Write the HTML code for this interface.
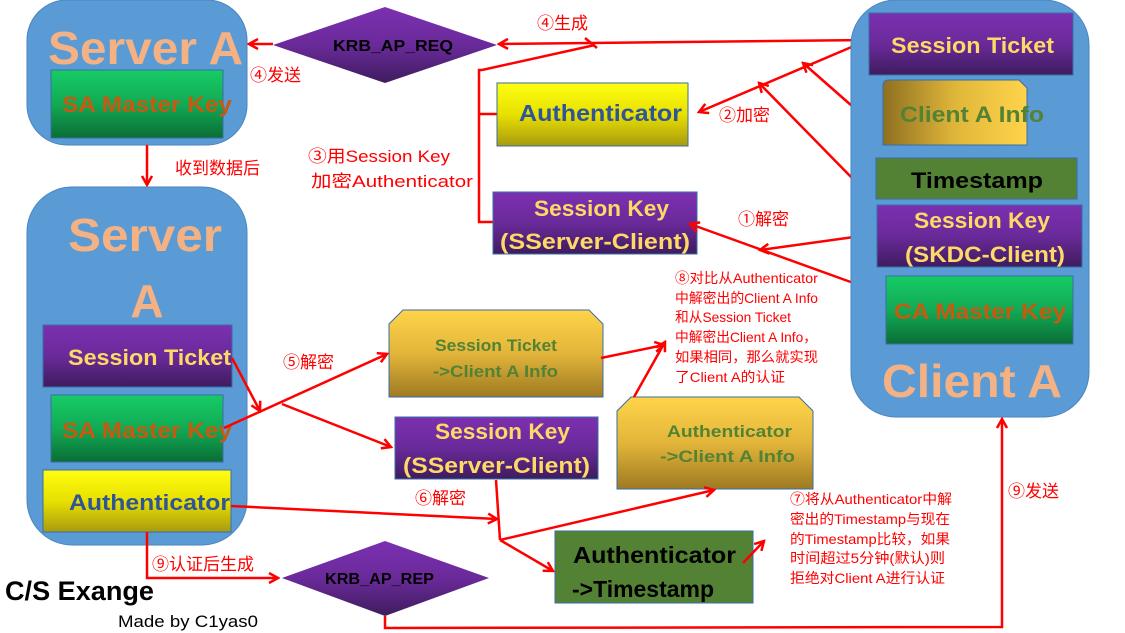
<!DOCTYPE html>
<html><head><meta charset="utf-8"><style>
html,body{margin:0;padding:0;background:#fff;}
svg{display:block;}
text{font-family:"Liberation Sans","Noto Sans CJK SC",sans-serif;}
.b{font-weight:bold;}
.r{fill:#FF0000;font-size:17px;}
.s{fill:#FF0000;font-size:14px;}
</style></head><body>
<svg width="1125" height="633" viewBox="0 0 1125 633" xmlns="http://www.w3.org/2000/svg">
<defs>
<linearGradient id="pu" x1="0" y1="0" x2="0" y2="1"><stop offset="0" stop-color="#7B30B0"/><stop offset="0.5" stop-color="#6A2A9A"/><stop offset="1" stop-color="#3E1C5E"/></linearGradient>
<linearGradient id="gr" x1="0" y1="0" x2="0" y2="1"><stop offset="0" stop-color="#16CC66"/><stop offset="0.5" stop-color="#12AA55"/><stop offset="1" stop-color="#0A6E35"/></linearGradient>
<linearGradient id="ye" x1="0" y1="0" x2="0" y2="1"><stop offset="0" stop-color="#FFFF10"/><stop offset="0.5" stop-color="#E8E000"/><stop offset="1" stop-color="#A89A10"/></linearGradient>
<linearGradient id="go" x1="0" y1="0" x2="0" y2="1"><stop offset="0" stop-color="#FFD44A"/><stop offset="0.5" stop-color="#E2B53A"/><stop offset="1" stop-color="#9E7A22"/></linearGradient>
<linearGradient id="goh" x1="0" y1="0" x2="1" y2="0"><stop offset="0" stop-color="#8E7020"/><stop offset="0.5" stop-color="#E0B63A"/><stop offset="1" stop-color="#FFD44A"/></linearGradient>
<marker id="ar" markerWidth="12" markerHeight="12" refX="10" refY="6" orient="auto" markerUnits="userSpaceOnUse"><path d="M1,1 L10,6 L1,11" fill="none" stroke="#FF0000" stroke-width="2.5"/></marker>
</defs>

<!-- Server A top -->
<rect x="27" y="0" width="220" height="145" rx="40" fill="#5B9BD5" stroke="#4A86C0"/>
<text x="48" y="64" textLength="195" lengthAdjust="spacingAndGlyphs" class="b" font-size="46" fill="#F4B183">Server A</text>
<rect x="51" y="70" width="172" height="68" fill="url(#gr)" stroke="#3A6EA5"/>
<text x="62" y="112" textLength="170" lengthAdjust="spacingAndGlyphs" class="b" font-size="22" fill="#C55A11">SA Master Key</text>

<line x1="147" y1="145" x2="147" y2="185" stroke="#FF0000" stroke-width="2.5" marker-end="url(#ar)"/>
<text x="175" y="174" class="r">收到数据后</text>

<!-- Server A bottom -->
<rect x="27" y="187" width="220" height="358" rx="45" fill="#5B9BD5" stroke="#4A86C0"/>
<text x="68" y="251" textLength="154" lengthAdjust="spacingAndGlyphs" class="b" font-size="46" fill="#F4B183">Server</text>
<text x="147" y="317" text-anchor="middle" class="b" font-size="46" fill="#F4B183">A</text>
<rect x="43" y="325" width="189" height="62" fill="url(#pu)" stroke="#3A6EA5"/>
<text x="68" y="365" textLength="163" lengthAdjust="spacingAndGlyphs" class="b" font-size="22" fill="#FFD966">Session Ticket</text>
<rect x="51" y="395" width="172" height="67" fill="url(#gr)" stroke="#3A6EA5"/>
<text x="62" y="438" textLength="170" lengthAdjust="spacingAndGlyphs" class="b" font-size="22" fill="#C55A11">SA Master Key</text>
<rect x="43" y="470" width="188" height="62" fill="url(#ye)" stroke="#3A6EA5"/>
<text x="69" y="510" textLength="161" lengthAdjust="spacingAndGlyphs" class="b" font-size="22" fill="#2F5597">Authenticator</text>

<!-- KRB_AP_REQ -->
<polygon points="273,45 385,7 497,45 385,83" fill="url(#pu)"/>
<text x="333" y="51" textLength="120" lengthAdjust="spacingAndGlyphs" class="b" font-size="16" fill="#000">KRB_AP_REQ</text>
<line x1="273" y1="44" x2="249" y2="44" stroke="#FF0000" stroke-width="2.5" marker-end="url(#ar)"/>
<text x="250" y="81" class="r">④发送</text>
<text x="537" y="29" class="r">④生成</text>
<line x1="868" y1="40" x2="499" y2="44" stroke="#FF0000" stroke-width="2.5" marker-end="url(#ar)"/>
<polyline points="482,70 595,45" fill="none" stroke="#FF0000" stroke-width="2.5"/>
<path d="M585,38 L597,48" stroke="#FF0000" stroke-width="2.5"/>
<polyline points="497,114 479,114" fill="none" stroke="#FF0000" stroke-width="2.5"/>
<polyline points="482,70 479,70 479,222 493,222" fill="none" stroke="#FF0000" stroke-width="2.5"/>

<!-- Authenticator top -->
<rect x="497" y="83" width="191" height="63" fill="url(#ye)" stroke="#3A6EA5"/>
<text x="519" y="121" textLength="163" lengthAdjust="spacingAndGlyphs" class="b" font-size="23" fill="#2F5597">Authenticator</text>
<line x1="868" y1="40" x2="699" y2="112" stroke="#FF0000" stroke-width="2.5" marker-end="url(#ar)"/>
<text x="719" y="121" class="r">②加密</text>
<line x1="860" y1="113" x2="803" y2="63" stroke="#FF0000" stroke-width="2.5" marker-end="url(#ar)"/>
<line x1="852" y1="178" x2="759" y2="83" stroke="#FF0000" stroke-width="2.5" marker-end="url(#ar)"/>

<text x="308" y="162" class="r" textLength="142" lengthAdjust="spacingAndGlyphs">③用Session Key</text>
<text x="311" y="187" class="r" textLength="162" lengthAdjust="spacingAndGlyphs">加密Authenticator</text>

<!-- Session Key SS top -->
<rect x="493" y="192" width="204" height="62" fill="url(#pu)" stroke="#3A6EA5"/>
<text x="534" y="216" textLength="135" lengthAdjust="spacingAndGlyphs" class="b" font-size="22" fill="#FFD966">Session Key</text>
<text x="500" y="249" textLength="190" lengthAdjust="spacingAndGlyphs" class="b" font-size="22" fill="#FFD966">(SServer-Client)</text>
<text x="738" y="225" class="r">①解密</text>
<line x1="854" y1="237" x2="760" y2="250" stroke="#FF0000" stroke-width="2.5" marker-end="url(#ar)"/>
<line x1="859" y1="285" x2="690" y2="224" stroke="#FF0000" stroke-width="2.5" marker-end="url(#ar)"/>

<!-- Client A -->
<rect x="851" y="0" width="238" height="417" rx="45" fill="#5B9BD5" stroke="#4A86C0"/>
<rect x="869" y="13" width="204" height="62" fill="url(#pu)" stroke="#3A6EA5"/>
<text x="891" y="53" textLength="163" lengthAdjust="spacingAndGlyphs" class="b" font-size="22" fill="#FFD966">Session Ticket</text>
<path d="M889,80 L1019,80 L1027,88 L1027,145 L883,145 L883,86 Q883,80 889,80 Z" fill="url(#goh)" stroke="#3A6EA5"/>
<text x="900" y="122" textLength="144" lengthAdjust="spacingAndGlyphs" class="b" font-size="22" fill="#548235">Client A Info</text>
<rect x="876" y="158" width="201" height="41" fill="#548235" stroke="#3A6EA5"/>
<text x="911" y="188" textLength="132" lengthAdjust="spacingAndGlyphs" class="b" font-size="22" fill="#000">Timestamp</text>
<rect x="877" y="205" width="205" height="62" fill="url(#pu)" stroke="#3A6EA5"/>
<text x="914" y="228" textLength="136" lengthAdjust="spacingAndGlyphs" class="b" font-size="22" fill="#FFD966">Session Key</text>
<text x="905" y="262" textLength="160" lengthAdjust="spacingAndGlyphs" class="b" font-size="22" fill="#FFD966">(SKDC-Client)</text>
<rect x="886" y="276" width="187" height="68" fill="url(#gr)" stroke="#3A6EA5"/>
<text x="894" y="319" textLength="172" lengthAdjust="spacingAndGlyphs" class="b" font-size="22" fill="#C55A11">CA Master Key</text>
<text x="882" y="397" textLength="180" lengthAdjust="spacingAndGlyphs" class="b" font-size="46" fill="#F4B183">Client A</text>

<!-- middle boxes -->
<polygon points="403,310 589,310 603,324 603,397 389,397 389,324" fill="url(#go)" stroke="#3A6EA5"/>
<text x="435" y="351" textLength="122" lengthAdjust="spacingAndGlyphs" class="b" font-size="17" fill="#548235">Session Ticket</text>
<text x="433" y="377" textLength="125" lengthAdjust="spacingAndGlyphs" class="b" font-size="17" fill="#548235">-&gt;Client A Info</text>
<rect x="395" y="417" width="203" height="62" fill="url(#pu)" stroke="#3A6EA5"/>
<text x="435" y="439" textLength="135" lengthAdjust="spacingAndGlyphs" class="b" font-size="22" fill="#FFD966">Session Key</text>
<text x="403" y="473" textLength="187" lengthAdjust="spacingAndGlyphs" class="b" font-size="22" fill="#FFD966">(SServer-Client)</text>
<polygon points="631,397 799,397 813,411 813,489 617,489 617,411" fill="url(#go)" stroke="#3A6EA5"/>
<text x="667" y="437" textLength="125" lengthAdjust="spacingAndGlyphs" class="b" font-size="17" fill="#548235">Authenticator</text>
<text x="660" y="462" textLength="135" lengthAdjust="spacingAndGlyphs" class="b" font-size="17" fill="#548235">-&gt;Client A Info</text>
<rect x="555" y="531" width="198" height="72" fill="#548235" stroke="#3A6EA5"/>
<text x="573" y="563" textLength="163" lengthAdjust="spacingAndGlyphs" class="b" font-size="23" fill="#000">Authenticator</text>
<text x="572" y="597" textLength="142" lengthAdjust="spacingAndGlyphs" class="b" font-size="23" fill="#000">-&gt;Timestamp</text>

<!-- middle arrows -->
<line x1="232" y1="358" x2="260" y2="411" stroke="#FF0000" stroke-width="2.5" marker-end="url(#ar)"/>
<line x1="224" y1="428" x2="387" y2="354" stroke="#FF0000" stroke-width="2.5" marker-end="url(#ar)"/>
<line x1="282" y1="404" x2="391" y2="447" stroke="#FF0000" stroke-width="2.5" marker-end="url(#ar)"/>
<text x="283" y="368" class="r">⑤解密</text>
<line x1="231" y1="506" x2="497" y2="519" stroke="#FF0000" stroke-width="2.5" marker-end="url(#ar)"/>
<text x="415" y="504" class="r">⑥解密</text>
<polyline points="496,480 500,540" fill="none" stroke="#FF0000" stroke-width="2.5"/>
<line x1="500" y1="540" x2="553" y2="571" stroke="#FF0000" stroke-width="2.5" marker-end="url(#ar)"/>
<line x1="500" y1="540" x2="714" y2="490" stroke="#FF0000" stroke-width="2.5" marker-end="url(#ar)"/>
<line x1="634" y1="397" x2="665" y2="342" stroke="#FF0000" stroke-width="2.5" marker-end="url(#ar)"/>
<line x1="601" y1="358" x2="664" y2="345" stroke="#FF0000" stroke-width="2.5" marker-end="url(#ar)"/>
<line x1="743" y1="563" x2="764" y2="541" stroke="#FF0000" stroke-width="2.5" marker-end="url(#ar)"/>

<text class="s"><tspan x="675" y="283" textLength="143" lengthAdjust="spacingAndGlyphs">⑧对比从Authenticator</tspan><tspan x="675" y="303" textLength="143" lengthAdjust="spacingAndGlyphs">中解密出的Client A Info</tspan><tspan x="675" y="322" textLength="116" lengthAdjust="spacingAndGlyphs">和从Session Ticket</tspan><tspan x="675" y="342" textLength="142" lengthAdjust="spacingAndGlyphs">中解密出Client A Info，</tspan><tspan x="675" y="362" textLength="143" lengthAdjust="spacingAndGlyphs">如果相同，那么就实现</tspan><tspan x="675" y="382" textLength="110" lengthAdjust="spacingAndGlyphs">了Client A的认证</tspan></text>
<text class="s"><tspan x="790" y="504" textLength="162" lengthAdjust="spacingAndGlyphs">⑦将从Authenticator中解</tspan><tspan x="790" y="524" textLength="160" lengthAdjust="spacingAndGlyphs">密出的Timestamp与现在</tspan><tspan x="790" y="544" textLength="160" lengthAdjust="spacingAndGlyphs">的Timestamp比较，如果</tspan><tspan x="790" y="563" textLength="155" lengthAdjust="spacingAndGlyphs">时间超过5分钟(默认)则</tspan><tspan x="790" y="583" textLength="155" lengthAdjust="spacingAndGlyphs">拒绝对Client A进行认证</tspan></text>

<!-- bottom -->
<polyline points="147,532 147,578 278,578" fill="none" stroke="#FF0000" stroke-width="2.5" marker-end="url(#ar)"/>
<text x="152" y="570" class="r">⑨认证后生成</text>
<polygon points="282,578 385,541 489,578 385,616" fill="url(#pu)"/>
<text x="325" y="584" textLength="109" lengthAdjust="spacingAndGlyphs" class="b" font-size="16" fill="#000">KRB_AP_REP</text>
<polyline points="385,616 385,628 1002,627 1002,419" fill="none" stroke="#FF0000" stroke-width="2.5" marker-end="url(#ar)"/>
<text x="1008" y="497" class="r">⑨发送</text>
<text x="5" y="600" textLength="149" lengthAdjust="spacingAndGlyphs" class="b" font-size="27" fill="#000">C/S Exange</text>
<text x="118" y="627" textLength="140" lengthAdjust="spacingAndGlyphs" font-size="17" fill="#000">Made by C1yas0</text>
</svg>
</body></html>
